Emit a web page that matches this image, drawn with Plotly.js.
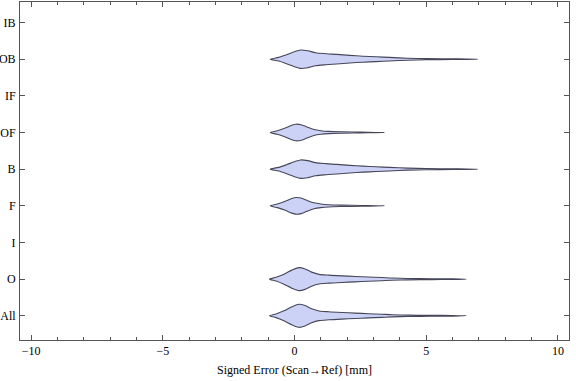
<!DOCTYPE html>
<html><head><meta charset="utf-8">
<script src="https://cdn.plot.ly/plotly-3.0.1.min.js"></script>
<style>html,body{margin:0;padding:0;background:#fff}#c{width:576px;height:381px}</style>
</head><body><div id="c"></div>
<script>
// Categories, bottom to top
const categories = ["All","O","I","F","B","OF","IF","OB","IB"];

// Violin outlines: error value (mm) and half-width (px at 36.6 px per category)
const obX = [-0.92,-0.6,-0.3,0.0,0.23,0.5,0.8,1.2,1.6,2.1,2.6,3.1,3.6,4.3,5.0,6.0,6.95];
const obW = [0,1.8,4.5,7.5,9.2,8.5,6.5,5.5,4.8,3.8,3.0,2.4,1.8,1.0,0.6,0.35,0];
const bX  = obX.slice();
const bW  = obW.slice();
const ofX = [-0.92,-0.65,-0.35,-0.1,0.05,0.25,0.47,0.74,1.0,1.3,1.8,2.5,3.42];
const ofW = [0,1.8,4.5,7.3,8.3,7.8,5.5,3.0,1.8,1.1,0.7,0.4,0];
const fX  = ofX.slice();
const fW  = ofW.slice();
const oX  = [-0.95,-0.7,-0.4,-0.1,0.17,0.4,0.65,0.93,1.3,1.8,2.3,2.8,3.3,3.7,4.3,5.2,6.0,6.52];
const oW  = [0,1.8,5,9,11.5,10.2,7,4.8,4.0,3.3,2.7,2.1,1.6,1.1,0.7,0.45,0.3,0];
const allX = oX.slice();
const allW = oW.slice();

const violins = [
  {cat:"All", x:allX, w:allW},
  {cat:"O",   x:oX,   w:oW},
  {cat:"F",   x:fX,   w:fW},
  {cat:"B",   x:bX,   w:bW},
  {cat:"OF",  x:ofX,  w:ofW},
  {cat:"OB",  x:obX,  w:obW}
];
const PX_PER_CAT = 36.6;

const traces = violins.map(v => {
  const c = categories.indexOf(v.cat) + 1;
  const xs = [], ys = [];
  for (let i = 0; i < v.x.length; i++) { xs.push(v.x[i]); ys.push(c + v.w[i]/PX_PER_CAT); }
  for (let i = v.x.length - 2; i >= 0; i--) { xs.push(v.x[i]); ys.push(c - v.w[i]/PX_PER_CAT); }
  return {
    type:'scatter', mode:'lines', x:xs, y:ys, fill:'toself',
    fillcolor:'rgb(204,210,246)',
    line:{color:'rgb(70,70,88)', width:1.1, shape:'spline', smoothing:0.8},
    hoverinfo:'skip', showlegend:false
  };
});

const font = {family:'Times New Roman, Liberation Serif, DejaVu Serif, serif', size:12, color:'#000'};
const layout = {
  width:576, height:381,
  margin:{l:20, r:7, t:2, b:40.5},
  paper_bgcolor:'#fff', plot_bgcolor:'#fff',
  font: font,
  showlegend:false,
  xaxis:{
    range:[-10.42,10.42], tickvals:[-10,-5,0,5,10],
    ticks:'inside', ticklen:5, tickcolor:'#555', tickwidth:1,
    minor:{ticks:'inside', dtick:1, ticklen:3, tickcolor:'#555', tickwidth:1},
    showline:true, linecolor:'#555', linewidth:1, mirror:'ticks',
    showgrid:false, zeroline:false, tickfont:font,
    title:{text:'Signed Error (Scan→Ref) [mm]', font:font, standoff:8}
  },
  yaxis:{
    range:[0.34,9.56], tickvals:[1,2,3,4,5,6,7,8,9], ticktext:categories,
    ticks:'inside', ticklen:5, tickcolor:'#555', tickwidth:1,
    showline:true, linecolor:'#555', linewidth:1, mirror:'ticks',
    showgrid:false, zeroline:false, tickfont:font, ticklabelstandoff:1
  }
};
Plotly.newPlot('c', traces, layout, {staticPlot:true, displayModeBar:false});
</script></body></html>
